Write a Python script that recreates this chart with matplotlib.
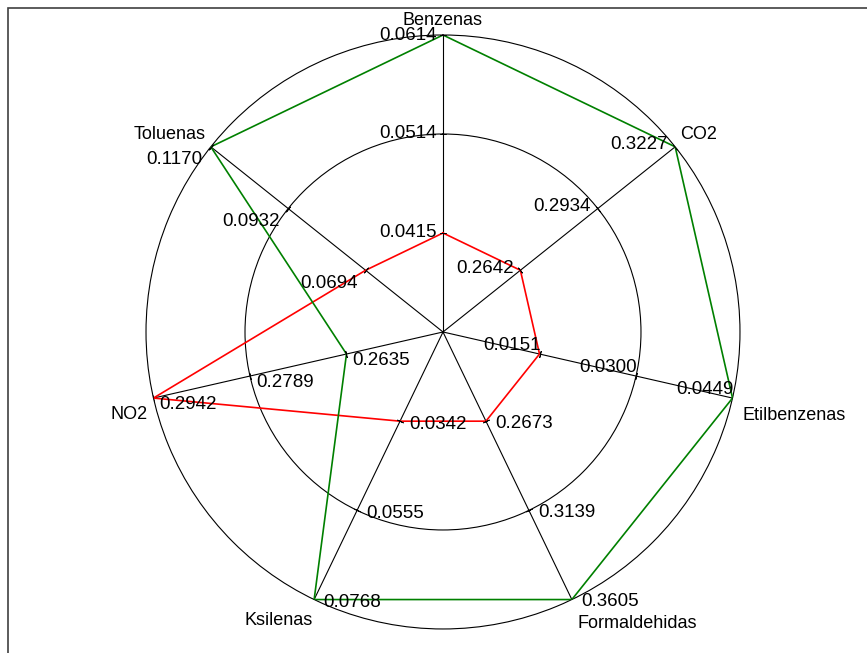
import numpy as np
import matplotlib
matplotlib.use('Agg')
import matplotlib.pyplot as plt
from matplotlib.patches import Rectangle

plt.rcParams['font.family'] = ['Liberation Sans', 'DejaVu Sans']

categories = ['Benzenas', 'CO2', 'Etilbenzenas', 'Formaldehidas', 'Ksilenas', 'NO2', 'Toluenas']
series_red = [0.0415, 0.2642, 0.0151, 0.2673, 0.0342, 0.2942, 0.0694]
series_green = [0.0614, 0.3227, 0.0449, 0.3605, 0.0768, 0.2635, 0.1170]
# tick labels on each spoke: min, middle, max
tick_labels = [
    ['0.0415', '0.0514', '0.0614'],
    ['0.2642', '0.2934', '0.3227'],
    ['0.0151', '0.0300', '0.0449'],
    ['0.2673', '0.3139', '0.3605'],
    ['0.0342', '0.0555', '0.0768'],
    ['0.2635', '0.2789', '0.2942'],
    ['0.0694', '0.0932', '0.1170'],
]

# label placement per spoke (pixels)
val_pos = [('right', (-6, 0)), ('right', (-7, 2)), ('right', (1, 9)), ('left', (9, -2)),
           ('left', (9, -3)), ('left', (6, -6)), ('right', (-8, -13))]
cat_pos = [('center', (0, 15)), ('left', (5, 12)), ('left', (10, -17)), ('left', (6, -24)),
           ('right', (-1, -21)), ('right', (-6, -16)), ('right', (-5, 12))]

n = len(categories)
angles = np.arange(n) * 2 * np.pi / n
lo = np.minimum(series_red, series_green)
hi = np.maximum(series_red, series_green)


def scale(vals):
    vals = np.array(vals)
    return 1/3 + 2/3 * (vals - lo) / (hi - lo)


fig = plt.figure(figsize=(8.67, 6.53), dpi=100)
ax = fig.add_axes([0.1684, 0.0368, 0.6851, 0.9096], projection='polar')
ax.set_theta_zero_location('N')
ax.set_theta_direction(-1)
ax.set_ylim(0, 1)
ax.set_xticks(angles)
ax.set_xticklabels([])
ax.set_yticks([2/3])
ax.set_yticklabels([])
ax.tick_params(length=0)
ax.grid(color='black', lw=0.8, ls='-')
ax.spines['polar'].set_color('black')
ax.spines['polar'].set_linewidth(0.8)

th = np.append(angles, angles[0])
r_red = scale(series_red)
r_green = scale(series_green)
ax.plot(th, np.append(r_red, r_red[0]), color='#ff0000', lw=1.2, zorder=3)
ax.plot(th, np.append(r_green, r_green[0]), color='#008000', lw=1.2, zorder=3)

levels = [1/3, 2/3, 1.0]
for i in range(n):
    deg = np.degrees(angles[i])
    ax.plot([angles[i]] * 3, levels, ls='none', marker=(2, 2, -deg - 90),
            ms=5, mew=0.6, color='black', zorder=4)
    ha, off = val_pos[i]
    for r, lab in zip(levels, tick_labels[i]):
        ax.annotate(lab, (angles[i], r), xytext=off, textcoords='offset pixels',
                    ha=ha, va='center', fontsize=13.5, annotation_clip=False, zorder=5)
    ha, off = cat_pos[i]
    ax.annotate(categories[i], (angles[i], 1.0), xytext=off, textcoords='offset pixels',
                ha=ha, va='center', fontsize=13, annotation_clip=False, zorder=5)

fig.add_artist(Rectangle((8/867, -0.1), 2, 1.1 - 8/653, transform=fig.transFigure,
                         fill=False, edgecolor='#404040', lw=1.2))

fig.savefig('out.png', dpi=100)
